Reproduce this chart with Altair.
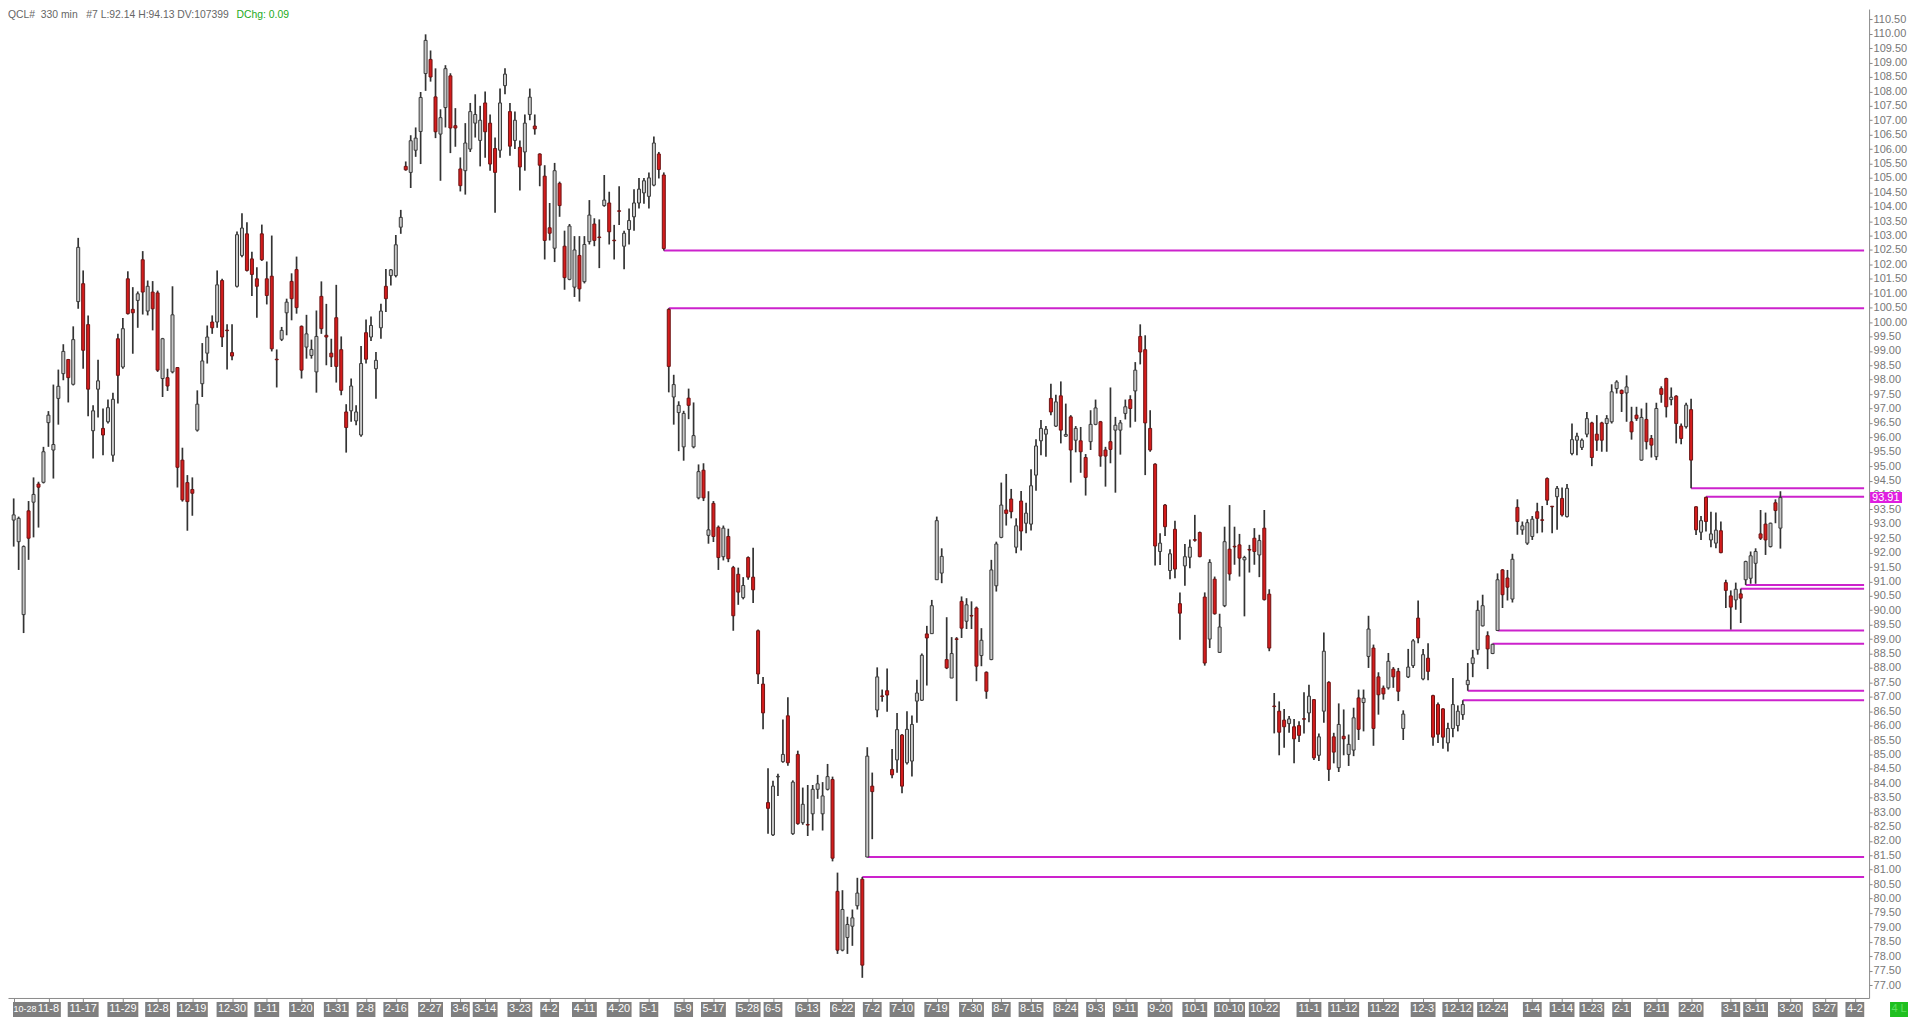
import altair as alt
import pandas as pd

# ---------------- data ----------------
opens = [
93.13, 92.38, 89.85, 93.45, 93.75, 94.38, 94.44, 96.51, 95.56, 97.35,
98.21, 98.70, 97.84, 100.71, 101.33, 99.91, 96.23, 97.67, 96.31, 96.54,
95.38, 99.42, 98.44, 101.50, 100.44, 100.75, 102.16, 100.38, 101.04, 101.01,
98.04, 98.07, 98.27, 98.42, 95.21, 94.43, 94.19, 96.25, 97.86, 98.92,
100.00, 100.00, 101.44, 99.72, 98.94, 101.24, 102.31, 103.06, 102.19, 101.50,
103.06, 101.50, 101.59, 98.71, 99.40, 100.32, 101.41, 101.82, 99.85, 99.13,
98.84, 98.27, 100.89, 99.54, 98.92, 100.15, 99.04, 96.88, 96.92, 96.57,
96.08, 99.63, 99.48, 98.38, 99.80, 101.24, 101.61, 101.61, 103.29, 105.40,
105.19, 105.96, 106.61, 108.62, 109.11, 107.81, 106.52, 107.44, 108.54, 106.81,
105.31, 105.25, 106.00, 106.90, 106.30, 107.60, 106.90, 106.02, 105.96, 108.20,
107.30, 106.30, 106.06, 105.90, 107.20, 106.80, 105.83, 105.06, 103.27, 102.56,
104.81, 102.63, 101.48, 101.21, 102.31, 101.40, 102.79, 103.40, 102.95, 104.04,
104.13, 102.84, 103.86, 102.63, 103.21, 103.65, 104.13, 104.48, 104.36, 104.75,
105.83, 105.10, 100.44, 97.40, 96.86, 95.67, 97.36, 95.67, 93.90, 94.86,
92.60, 93.71, 92.88, 91.86, 92.56, 91.48, 91.25, 90.44, 91.83, 91.15,
89.29, 87.44, 83.33, 82.21, 84.22, 84.75, 86.34, 82.25, 85.00, 82.63,
82.57, 82.94, 83.79, 82.94, 83.79, 84.13, 80.25, 78.21, 78.65, 79.04,
79.75, 80.67, 81.44, 83.90, 86.54, 87.03, 87.21, 84.48, 84.81, 85.67,
84.71, 84.77, 86.85, 86.88, 89.18, 89.19, 91.06, 91.29, 88.29, 87.65,
89.01, 90.31, 89.62, 89.82, 90.08, 88.43, 87.85, 88.29, 90.85, 92.53,
93.48, 93.86, 92.19, 93.79, 93.02, 92.99, 94.69, 95.88, 96.11, 97.35,
96.39, 97.44, 96.04, 96.71, 95.90, 95.88, 95.30, 95.85, 96.45, 96.54,
95.56, 95.85, 96.25, 96.25, 96.83, 97.31, 97.61, 99.50, 99.04, 96.31,
95.07, 92.04, 93.65, 91.38, 92.81, 90.23, 91.54, 91.84, 92.45, 92.70,
90.46, 89.00, 91.08, 88.54, 90.16, 92.12, 92.22, 92.27, 91.75, 92.11,
92.50, 91.92, 92.85, 90.56, 86.68, 86.50, 86.19, 86.07, 85.96, 86.00,
86.24, 86.44, 86.90, 84.97, 86.50, 87.50, 85.61, 84.54, 85.63, 85.00,
85.15, 86.96, 86.80, 88.40, 88.69, 87.69, 87.30, 87.31, 87.96, 87.88,
85.90, 87.69, 88.08, 89.73, 87.62, 88.34, 87.04, 86.73, 86.58, 85.40,
85.90, 86.00, 86.38, 87.42, 88.15, 88.63, 89.46, 89.12, 88.50, 89.30,
91.40, 91.12, 90.39, 93.57, 92.79, 92.33, 92.56, 93.42, 93.14, 94.57,
93.61, 93.94, 93.88, 93.25, 95.44, 95.90, 95.65, 96.11, 96.50, 96.11,
96.50, 96.48, 96.54, 97.69, 97.63, 97.54, 96.54, 96.77, 95.21, 96.62,
95.96, 95.33, 97.69, 98.04, 97.31, 97.43, 96.39, 96.37, 96.96, 93.59,
92.71, 93.92, 92.44, 92.33, 92.76, 90.96, 90.50, 90.36, 90.57, 91.06,
91.11, 91.63, 92.65, 92.99, 92.21, 93.73, 92.85,
]

highs = [
93.88, 93.25, 92.25, 93.79, 94.61, 94.46, 95.67, 96.91, 97.83, 98.35,
99.23, 98.72, 99.85, 102.92, 101.79, 100.23, 97.11, 98.69, 97.00, 97.31,
97.55, 99.59, 100.14, 101.76, 101.21, 101.06, 102.46, 101.44, 101.42, 101.09,
99.45, 98.38, 101.24, 98.44, 95.64, 94.69, 94.61, 97.63, 99.27, 99.88,
100.23, 101.79, 101.50, 99.92, 99.92, 103.14, 103.77, 103.46, 102.44, 101.90,
103.38, 102.10, 103.00, 99.05, 99.83, 100.81, 101.69, 102.27, 99.88, 100.25,
99.39, 100.40, 101.41, 100.63, 99.42, 101.29, 99.50, 97.15, 98.04, 97.11,
99.17, 100.09, 100.19, 98.96, 100.63, 101.84, 101.84, 103.02, 103.89, 105.57,
106.48, 106.75, 107.98, 109.98, 109.42, 108.80, 107.38, 108.91, 108.63, 107.42,
105.71, 106.90, 107.60, 107.90, 107.50, 108.00, 107.20, 106.40, 108.10, 108.80,
107.60, 107.30, 106.30, 107.20, 108.10, 107.20, 105.85, 105.44, 104.13, 105.52,
104.87, 103.17, 103.40, 102.98, 102.98, 102.98, 104.23, 103.60, 103.56, 105.10,
104.52, 103.37, 104.71, 103.17, 103.94, 104.61, 105.00, 105.00, 105.19, 106.44,
105.90, 105.19, 100.48, 98.17, 97.25, 96.92, 97.69, 97.21, 95.06, 95.10,
94.13, 93.79, 92.94, 92.94, 92.83, 91.54, 91.48, 91.15, 91.87, 92.17,
89.33, 87.69, 84.52, 84.09, 84.33, 86.21, 86.98, 84.10, 85.13, 83.85,
83.94, 83.94, 84.29, 84.04, 84.67, 84.23, 80.90, 80.29, 79.37, 79.62,
80.72, 80.75, 85.25, 84.37, 88.02, 87.25, 87.98, 85.19, 86.44, 85.71,
86.50, 86.35, 87.59, 88.50, 89.46, 90.36, 93.25, 92.15, 89.76, 89.07,
89.07, 90.48, 90.42, 90.31, 90.13, 89.38, 87.88, 91.75, 92.38, 94.43,
94.73, 94.21, 93.19, 94.14, 93.73, 94.89, 95.93, 96.60, 96.39, 97.86,
97.48, 97.94, 97.17, 96.77, 96.39, 96.36, 95.42, 96.94, 97.31, 96.57,
95.67, 97.73, 96.71, 96.60, 97.31, 97.46, 98.61, 99.92, 99.54, 96.94,
95.10, 92.67, 93.69, 92.12, 93.11, 90.62, 92.30, 92.46, 93.31, 92.73,
90.62, 91.77, 91.17, 89.88, 92.90, 93.65, 92.90, 92.65, 91.89, 92.27,
92.85, 92.62, 93.48, 90.73, 87.13, 86.84, 86.58, 86.33, 86.23, 86.15,
87.16, 87.42, 86.92, 85.73, 89.23, 87.54, 85.75, 86.77, 86.56, 85.69,
86.62, 87.25, 87.25, 89.81, 88.81, 87.85, 87.39, 88.52, 88.03, 88.00,
86.53, 88.66, 89.00, 90.34, 88.66, 88.86, 87.07, 86.80, 86.60, 86.10,
87.65, 86.70, 86.88, 88.17, 88.63, 90.34, 90.54, 89.27, 88.84, 91.28,
91.43, 91.40, 91.96, 93.85, 93.08, 93.16, 93.27, 93.73, 93.62, 94.61,
93.62, 94.31, 94.26, 94.38, 96.48, 96.16, 95.96, 96.88, 96.54, 96.77,
96.54, 96.77, 97.84, 97.98, 97.66, 98.15, 97.06, 97.06, 97.00, 97.20,
96.08, 97.20, 97.77, 98.07, 97.73, 97.46, 96.48, 97.20, 97.34, 93.61,
93.27, 93.94, 93.42, 93.39, 93.08, 91.06, 90.69, 90.96, 90.75, 91.72,
92.04, 92.15, 93.48, 93.39, 93.04, 93.85, 94.13,
]

lows = [
92.21, 91.40, 89.21, 91.75, 92.53, 92.87, 94.40, 95.67, 94.57, 96.44,
97.98, 97.21, 97.80, 100.46, 98.38, 96.73, 95.27, 96.69, 95.38, 96.48,
95.15, 97.17, 98.38, 100.26, 98.90, 99.80, 100.26, 100.23, 99.71, 98.27,
97.40, 97.61, 98.22, 94.26, 93.77, 92.76, 93.28, 96.20, 97.40, 98.56,
99.59, 99.80, 99.13, 98.35, 98.67, 101.20, 102.25, 101.75, 100.90, 100.15,
102.12, 100.61, 98.98, 97.73, 99.34, 99.54, 100.06, 100.29, 98.04, 98.73,
98.73, 97.55, 99.59, 98.50, 98.44, 97.90, 97.46, 95.47, 96.54, 96.42,
96.02, 98.56, 99.34, 97.34, 99.42, 100.35, 101.27, 101.55, 103.06, 105.25,
104.65, 105.73, 105.48, 108.02, 108.34, 106.38, 104.90, 106.75, 105.86, 106.08,
104.53, 104.42, 105.90, 106.40, 105.40, 105.70, 105.25, 103.79, 105.70, 107.90,
105.77, 106.00, 104.56, 105.25, 107.00, 106.50, 104.71, 102.17, 102.83, 102.08,
103.65, 101.12, 101.45, 100.87, 100.71, 101.34, 102.69, 102.63, 101.87, 104.00,
102.69, 102.17, 103.37, 101.83, 102.69, 103.17, 103.94, 104.10, 103.94, 104.71,
104.98, 102.48, 97.56, 96.44, 95.52, 95.19, 96.63, 95.62, 93.85, 93.79,
92.31, 92.37, 91.40, 91.73, 91.67, 89.29, 90.19, 90.38, 91.06, 90.25,
87.44, 85.87, 82.25, 82.17, 83.56, 84.71, 84.61, 82.21, 82.56, 82.56,
82.17, 82.36, 83.46, 82.36, 83.75, 81.29, 78.08, 78.17, 78.08, 78.36,
79.62, 77.25, 81.44, 82.06, 86.29, 86.83, 86.48, 84.17, 84.36, 83.65,
84.65, 84.23, 86.10, 86.85, 87.39, 89.19, 91.06, 90.94, 87.96, 87.65,
86.85, 89.04, 89.35, 89.35, 87.54, 88.06, 86.93, 88.27, 90.65, 92.50,
92.94, 93.19, 91.98, 92.07, 92.67, 92.77, 94.15, 95.38, 95.33, 96.77,
96.36, 95.79, 96.02, 94.43, 95.48, 94.77, 93.98, 95.56, 96.42, 94.98,
94.29, 95.10, 94.08, 95.40, 96.62, 96.34, 96.54, 98.53, 94.69, 95.50,
91.55, 91.57, 92.58, 91.08, 91.11, 88.98, 90.85, 91.46, 92.38, 91.84,
88.08, 88.69, 89.85, 88.52, 90.11, 91.03, 91.58, 91.17, 89.79, 91.31,
91.58, 91.15, 90.34, 88.58, 85.73, 84.97, 85.23, 85.75, 84.69, 85.43,
85.73, 86.12, 84.81, 84.77, 86.10, 84.08, 84.69, 84.39, 84.97, 84.60,
84.94, 85.50, 85.80, 88.00, 85.30, 86.38, 86.90, 87.25, 87.31, 86.85,
85.50, 87.65, 88.00, 88.86, 87.57, 87.57, 85.30, 85.40, 85.20, 85.10,
85.60, 85.80, 86.20, 87.21, 87.68, 88.46, 89.44, 87.96, 88.48, 89.30,
90.08, 90.34, 90.27, 92.62, 92.62, 92.27, 92.44, 92.67, 92.70, 93.65,
92.67, 92.79, 93.25, 93.22, 95.38, 95.38, 95.56, 96.00, 95.00, 95.53,
95.50, 95.50, 96.48, 97.52, 96.88, 96.54, 95.92, 96.57, 95.19, 95.58,
95.30, 95.21, 97.20, 96.69, 97.11, 95.79, 95.76, 96.31, 94.23, 92.61,
92.44, 92.73, 92.19, 92.15, 91.98, 90.08, 89.33, 90.02, 89.56, 90.88,
90.92, 90.92, 92.44, 91.92, 92.18, 93.02, 92.14,
]

closes = [
93.31, 93.19, 92.21, 92.50, 94.02, 94.27, 95.50, 96.77, 95.75, 97.77,
98.98, 98.07, 99.39, 102.59, 99.02, 97.67, 96.92, 97.96, 96.08, 97.03,
97.32, 98.15, 99.77, 100.29, 100.32, 100.98, 101.04, 101.24, 100.46, 98.33,
99.42, 97.78, 100.25, 94.96, 93.83, 93.77, 94.06, 97.15, 98.65, 99.48,
99.80, 101.29, 99.48, 99.70, 98.82, 103.03, 103.26, 101.79, 101.65, 101.24,
102.16, 100.92, 99.07, 98.69, 99.71, 100.69, 100.81, 100.50, 98.33, 99.59,
99.05, 99.50, 99.77, 99.48, 98.79, 98.46, 97.63, 96.34, 97.78, 96.88,
98.56, 98.71, 99.88, 98.67, 100.38, 100.81, 101.81, 102.68, 103.63, 105.28,
106.29, 106.38, 107.79, 109.77, 108.50, 106.60, 107.09, 108.79, 106.73, 106.73,
104.73, 106.21, 107.30, 107.20, 107.00, 106.60, 105.48, 105.19, 107.60, 108.60,
106.10, 107.00, 105.38, 106.90, 107.80, 106.70, 105.44, 102.83, 103.08, 105.25,
104.04, 101.54, 103.33, 102.50, 101.15, 102.69, 103.71, 102.83, 102.93, 104.23,
103.13, 102.82, 103.84, 103.08, 103.52, 104.13, 104.61, 104.90, 105.00, 106.21,
105.29, 102.55, 98.46, 97.83, 97.11, 96.83, 97.11, 96.06, 94.81, 93.90,
92.79, 92.56, 91.83, 92.85, 91.79, 89.81, 90.63, 90.86, 91.15, 90.71,
87.79, 86.44, 83.13, 83.90, 84.24, 85.00, 84.71, 84.04, 82.60, 83.27,
82.55, 83.79, 83.98, 83.56, 84.23, 81.40, 78.21, 79.62, 79.10, 79.33,
80.19, 77.69, 84.94, 83.71, 87.69, 87.01, 87.06, 84.29, 85.86, 83.90,
85.87, 86.04, 87.13, 88.44, 89.04, 90.16, 93.11, 91.87, 88.00, 88.50,
88.99, 89.38, 90.19, 89.80, 88.06, 88.96, 87.19, 91.40, 92.30, 93.65,
93.36, 93.42, 92.93, 92.75, 93.37, 94.32, 95.70, 96.31, 96.28, 96.88,
97.23, 96.25, 96.10, 95.56, 96.31, 95.50, 94.61, 96.45, 97.02, 95.35,
95.35, 95.58, 96.42, 96.50, 97.06, 97.00, 98.33, 98.96, 96.50, 95.56,
92.23, 92.33, 92.90, 91.96, 91.43, 89.90, 91.86, 92.19, 92.43, 91.86,
88.17, 91.66, 89.88, 89.42, 92.38, 91.26, 92.20, 91.81, 91.83, 92.09,
92.04, 92.42, 90.37, 88.69, 86.66, 85.77, 85.96, 86.23, 85.54, 85.66,
86.22, 87.02, 84.88, 85.61, 88.58, 84.48, 85.08, 86.04, 85.54, 85.35,
86.27, 85.87, 86.95, 89.35, 85.90, 87.07, 87.10, 88.23, 87.69, 87.19,
86.40, 88.03, 88.94, 89.04, 88.46, 87.88, 85.60, 85.70, 85.60, 85.90,
86.73, 86.50, 86.73, 87.57, 88.35, 90.00, 90.16, 88.66, 88.82, 91.06,
90.54, 90.80, 91.77, 93.08, 92.93, 93.04, 93.16, 93.19, 93.12, 93.82,
93.59, 94.23, 93.31, 94.23, 95.92, 96.04, 95.90, 96.65, 95.30, 95.90,
95.90, 96.65, 97.58, 97.92, 97.52, 97.75, 96.19, 96.65, 96.69, 95.85,
95.73, 97.00, 97.49, 97.06, 97.39, 96.48, 95.96, 97.12, 95.21, 92.79,
93.11, 93.08, 92.65, 92.78, 92.00, 90.69, 90.11, 90.73, 90.42, 91.69,
91.89, 92.04, 92.50, 92.44, 93.02, 93.46, 93.91,
]

# date labels on the time axis (bar index where each label sits)
tick_idx = [0, 7, 14, 22, 29, 36, 44, 51, 58, 65, 71, 77, 84, 90, 95, 102, 108, 115, 122,
            128, 135, 141, 148, 153, 160, 167, 173, 179, 186, 193, 199, 205, 212, 218, 224,
            231, 238, 245, 252, 261, 268, 276, 284, 291, 298, 306, 312, 318, 324, 331, 338,
            346, 351, 358, 365, 371]
tick_lbl = ["10-28", "11-8", "11-17", "11-29", "12-8", "12-19", "12-30", "1-11", "1-20", "1-31",
            "2-8", "2-16", "2-27", "3-6", "3-14", "3-23", "4-2", "4-11", "4-20",
            "5-1", "5-9", "5-17", "5-28", "6-5", "6-13", "6-22", "7-2", "7-10", "7-19", "7-30",
            "8-7", "8-15", "8-24", "9-3", "9-11", "9-20", "10-1", "10-10", "10-22",
            "11-1", "11-12", "11-22", "12-3", "12-12", "12-24", "1-4", "1-14", "1-23",
            "2-1", "2-11", "2-20", "3-1", "3-11", "3-20", "3-27", "4-2"]

# unfilled gap lines (bar index where each starts, price level)
gap_start = [131, 132, 171, 172, 292, 293, 298, 299, 338, 341, 348, 349]
gap_price = [102.48, 100.48, 80.75, 81.44, 86.88, 87.21, 88.84, 89.30, 94.23, 93.94, 90.75, 90.88]

header_main = "QCL#\u00a0\u00a0330 min\u00a0\u00a0\u00a0#7 L:92.14 H:94.13 DV:107399"
header_chg = "DChg: 0.09"

# ---------------- layout ----------------
W, H = 1865, 991
XD = [-0.14, 372.86]
YD = [76.551, 110.857]
FONT = "Liberation Sans"

n = len(opens)
candles = pd.DataFrame({"i": list(range(n)), "open": opens, "high": highs,
                        "low": lows, "close": closes})
candles["dir"] = ["up" if c >= o else "down" for o, c in zip(opens, closes)]

gap_df = pd.DataFrame({"start": gap_start, "price": gap_price})
gap_df["end"] = XD[1]

# label boxes: width from the text; the first (partly hidden at the left edge
# in the original) is set smaller so it stays inside the plot
fsz = [9.0 if k == 0 else 11.0 for k in range(len(tick_lbl))]
half = [((6.12 * sum(ch.isdigit() for ch in s) + 3.67 * s.count("-")) * f / 11.0
         + (1.0 if k == 0 else 3.0)) / 2.0 / 5.0
        for k, (s, f) in enumerate(zip(tick_lbl, fsz))]
centers = [max(a, XD[0] + h) for a, h in zip(tick_idx, half)]
lab_df = pd.DataFrame({"idx": tick_idx, "label": tick_lbl, "c": centers, "fs": fsz})
lab_df["x0"] = [c - h for c, h in zip(centers, half)]
lab_df["x1"] = [c + h for c, h in zip(centers, half)]

last = closes[-1]
last_df = pd.DataFrame({"p": [last], "top": [last + 0.19], "bot": [last - 0.19],
                        "txt": [f"{last:.2f}"]})
hdr_df = pd.DataFrame({"t": [header_main], "g": [header_chg]})
corner_df = pd.DataFrame({"t": ["4 L"]})

price_ticks = [round(77 + 0.5 * k, 2) for k in range(68)]

xs = alt.Scale(domain=XD, nice=False, zero=False)
ys = alt.Scale(domain=YD, nice=False, zero=False)
xaxis = alt.Axis(values=tick_idx, labels=False, ticks=True, tickSize=4,
                 tickColor="#8a8a8a", domainColor="#8a8a8a", grid=False, title=None)
yaxis = alt.Axis(orient="right", values=price_ticks, format=".2f", labelColor="#777777",
                 labelFontSize=11, labelFont=FONT, tickColor="#8a8a8a", tickSize=3,
                 labelPadding=1, domainColor="#8a8a8a", grid=False, title=None,
                 labelOverlap=False, labelFlush=False)


def X(f):
    return alt.X(f, type="quantitative", scale=xs, axis=xaxis)


def Y(f):
    return alt.Y(f, type="quantitative", scale=ys, axis=yaxis)


gaps = alt.Chart(gap_df).mark_rule(color="#cc22cc", strokeWidth=2).encode(
    x=X("start"), x2="end:Q", y=Y("price"))

wicks = alt.Chart(candles).mark_rule(color="#333333", strokeWidth=1.7).encode(
    x=X("i"), y=Y("low"), y2="high:Q")

bodies = alt.Chart(candles).mark_bar(size=3, strokeWidth=1).encode(
    x=X("i"), y=Y("open"), y2="close:Q",
    fill=alt.Fill("dir:N", scale=alt.Scale(domain=["up", "down"],
                                           range=["#c8c8c8", "#d41c1c"]), legend=None),
    stroke=alt.Stroke("dir:N", scale=alt.Scale(domain=["up", "down"],
                                               range=["#3a3a3a", "#6e1414"]), legend=None))

lab_boxes = alt.Chart(lab_df).mark_rect(color="#7f7f7f").encode(
    x=X("x0"), x2="x1:Q", y=alt.value(H + 4), y2=alt.value(H + 24))
lab_text = alt.Chart(lab_df).mark_text(color="white", font=FONT,
                                       baseline="middle", align="center").encode(
    x=X("c"), y=alt.value(H + 11), text="label:N",
    size=alt.Size("fs:Q", scale=None, legend=None))

last_box = alt.Chart(last_df).mark_rect(color="#e01ee0").encode(
    x=alt.value(W + 1), x2=alt.value(W + 33), y=Y("top"), y2="bot:Q")
last_text = alt.Chart(last_df).mark_text(color="white", fontSize=11, font=FONT,
                                         align="left", baseline="middle").encode(
    x=alt.value(W + 3), y=Y("p"), text="txt:N")

hdr = alt.Chart(hdr_df).mark_text(color="#666666", fontSize=10.4, font=FONT,
                                  align="left", baseline="middle").encode(
    x=alt.value(0), y=alt.value(6), text="t:N")
hdr2 = alt.Chart(hdr_df).mark_text(color="#22aa22", fontSize=10.4, font=FONT,
                                   align="left", baseline="middle").encode(
    x=alt.value(229), y=alt.value(6), text="g:N")

corner_box = alt.Chart(corner_df).mark_rect(color="#1fbf1f").encode(
    x=alt.value(W + 21), x2=alt.value(W + 39), y=alt.value(H + 4), y2=alt.value(H + 24))
corner_text = alt.Chart(corner_df).mark_text(color="#5fe05f", fontSize=11, font=FONT,
                                             align="center", baseline="middle").encode(
    x=alt.value(W + 30), y=alt.value(H + 11), text="t:N")

chart = alt.layer(
    gaps, wicks, bodies, lab_boxes, lab_text, last_box, last_text,
    hdr, hdr2, corner_box, corner_text
).properties(
    width=W, height=H,
    autosize=alt.AutoSizeParams(type="none"),
    padding={"left": 0, "top": 0, "right": 39, "bottom": 18},
    background="white",
).configure_view(stroke=None)

chart.save("out.html", embed_options={"renderer": "svg", "actions": False})
